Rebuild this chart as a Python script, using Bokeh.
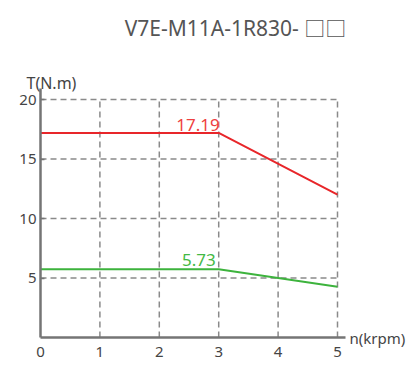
from bokeh.plotting import figure
from bokeh.models import Range1d, Label, FixedTicker, LinearAxis
from bokeh.core.properties import value
from bokeh.embed import file_html
from bokeh.resources import INLINE

title_text = "V7E-M11A-1R830- \u25a1\u25a1"
x_label = "n(krpm)"
y_label = "T(N.m)"
x_ticks = [0, 1, 2, 3, 4, 5]
y_ticks = [5, 10, 15, 20]

speed = [0, 3, 5]
torque_peak = [17.19, 17.19, 12.0]
torque_rated = [5.73, 5.73, 4.27]

FONT = "Noto Sans"
TITLE_FONT = "Noto Sans, Noto Sans CJK SC"
W, H = 410, 362
# pixel layout of the plotting area inside the canvas
X0_PX, X5_PX = 40, 337
Y0_PX, Y20_PX = 337, 99
sx = (X5_PX - X0_PX) / 5.0
sy = (Y0_PX - Y20_PX) / 20.0

p = figure(width=W, height=H, output_backend="svg", toolbar_location=None,
           x_range=Range1d(-X0_PX / sx, 5 + (W - X5_PX) / sx),
           y_range=Range1d(-(H - Y0_PX) / sy, Y0_PX / sy),
           min_border=0, x_axis_location=None, y_axis_location=None)
p.outline_line_color = None
p.xgrid.visible = False
p.ygrid.visible = False

xaxis = LinearAxis(fixed_location=0, bounds=(0, 5.13))
yaxis = LinearAxis(fixed_location=0, bounds=(0, 20.9))
p.add_layout(xaxis, "below")
p.add_layout(yaxis, "left")

# dashed grid built from tick values
xmax = x_ticks[-1]
ymax = y_ticks[-1]
vx = [t for t in x_ticks if t > 0]
p.segment(x0=vx, y0=[0]*len(vx), x1=vx, y1=[ymax]*len(vx),
          line_color="#8a8a8a", line_width=1.5, line_dash="6 4")
p.segment(x0=[0]*len(y_ticks), y0=y_ticks, x1=[xmax]*len(y_ticks), y1=y_ticks,
          line_color="#8a8a8a", line_width=1.5, line_dash="6 4")

p.line(speed, torque_peak, line_color="#e8262a", line_width=2)
p.line(speed, torque_rated, line_color="#3db33d", line_width=2)

p.text(x=[speed[1]], y=[torque_peak[1]], text=[f"{torque_peak[1]:.2f}"],
       text_color="#ee4040", text_align="right", text_baseline="bottom",
       y_offset=-2, x_offset=1, text_font=value(FONT), text_font_size="17px")
p.text(x=[speed[1]], y=[torque_rated[1]], text=[f"{torque_rated[1]:.2f}"],
       text_color="#44b944", text_align="right", text_baseline="bottom",
       y_offset=-3, x_offset=-3, text_font=value(FONT), text_font_size="17px")

for ax in (xaxis, yaxis):
    ax.axis_line_color = "#757575"
    ax.axis_line_width = 2.5
    ax.major_label_text_font = FONT
    ax.major_label_text_font_size = "15px"
    ax.major_label_text_color = "#444444"
    ax.minor_tick_line_color = None

xaxis.ticker = FixedTicker(ticks=x_ticks)
xaxis.major_tick_line_color = None
xaxis.major_label_standoff = 3
yaxis.ticker = FixedTicker(ticks=y_ticks)
yaxis.major_tick_in = 4
yaxis.major_tick_out = 0
yaxis.major_tick_line_color = "#757575"
yaxis.major_tick_line_width = 1.5
yaxis.major_label_standoff = 4

p.add_layout(Label(x=235, y=H - 27, x_units="screen", y_units="screen", text=title_text,
                   text_align="center", text_baseline="alphabetic",
                   text_font=TITLE_FONT, text_font_size="21px", text_color="#555555"))
p.add_layout(Label(x=26, y=H - 82, x_units="screen", y_units="screen", text=y_label,
                   text_align="left", text_baseline="alphabetic",
                   text_font=FONT, text_font_size="16px", text_color="#444444"))
p.add_layout(Label(x=349, y=H - 337, x_units="screen", y_units="screen", text=x_label,
                   text_align="left", text_baseline="middle",
                   text_font=FONT, text_font_size="15px", text_color="#444444"))

open("out.html", "w").write(file_html(p, INLINE))
